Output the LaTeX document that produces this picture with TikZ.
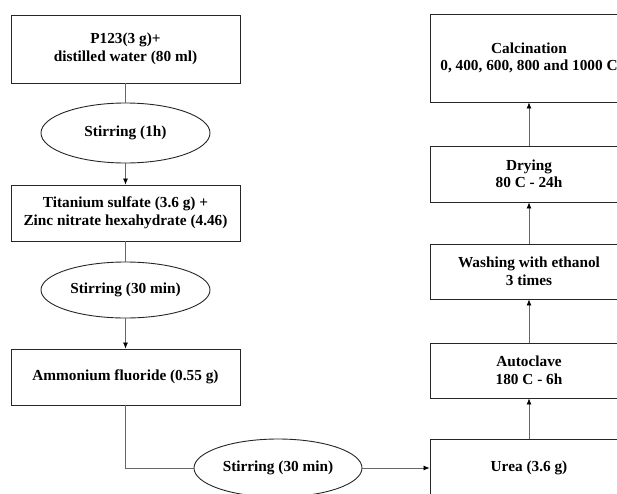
\documentclass[tikz,border=0pt]{standalone}
\usepackage{fontspec}
\setmainfont{Liberation Serif}
\usetikzlibrary{shapes.geometric,arrows.meta}
\begin{document}
\begin{tikzpicture}[x=1pt,y=-1pt,
  box/.style={draw=black!85,line width=0.9pt,rectangle,minimum width=229pt,inner sep=0pt,align=center,font=\fontsize{15.3}{17.5}\selectfont\bfseries},
  rbox/.style={box,minimum width=198pt},
  oval/.style={draw=black!85,line width=0.9pt,ellipse,inner sep=0pt,minimum width=169pt,align=center,font=\fontsize{15.3}{17.5}\selectfont\bfseries},
  conn/.style={draw=black!60,line width=0.7pt},
  arr/.style={conn,-{Latex[length=6pt,width=5pt,fill=black,color=black]}}]
\useasboundingbox (0,0) rectangle (617,493);
\clip (0,0) rectangle (617,493);
\node[box,minimum height=68pt] (b1) at (125.5,49) {P123(3 g)+\\distilled water (80 ml)};
\node[oval,minimum height=60pt] (e1) at (125.5,133) {Stirring (1h)};
\node[box,minimum height=56pt] (b2) at (125.5,213) {Titanium sulfate (3.6 g) +\\Zinc nitrate hexahydrate (4.46)};
\node[oval,minimum height=56pt] (e2) at (125.5,290) {Stirring (30 min)};
\node[box,minimum height=56pt] (b3) at (125.5,377) {Ammonium fluoride (0.55 g)};
\node[oval,minimum height=58pt,minimum width=168pt] (e3) at (278,468) {Stirring (30 min)};
\node[rbox,minimum height=58pt] (u) at (529,468) {Urea (3.6 g)};
\node[rbox,minimum height=55pt] (a) at (529,370.5) {Autoclave\\180 C - 6h};
\node[rbox,minimum height=55pt] (w) at (529,271.5) {Washing with ethanol\\3 times};
\node[rbox,minimum height=56pt] (d) at (529,174) {Drying\\80 C - 24h};
\node[rbox,minimum height=88pt] (c) at (529,58) {Calcination\\0, 400, 600, 800 and 1000 C};
\draw[conn] (b1) -- (e1);
\draw[arr] (e1) -- (b2);
\draw[conn] (b2) -- (e2);
\draw[arr] (e2) -- (b3);
\draw[conn] (b3.south) |- (e3.west);
\draw[arr] (e3) -- (u);
\draw[arr] (u) -- (a);
\draw[arr] (a) -- (w);
\draw[arr] (w) -- (d);
\draw[arr] (d) -- (c);
\end{tikzpicture}
\end{document}
